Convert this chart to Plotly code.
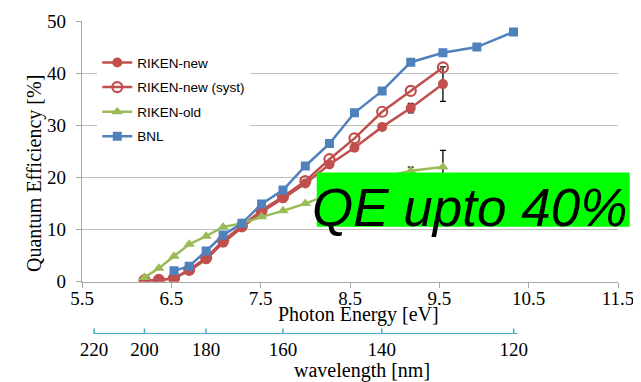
import plotly.graph_objects as go

# ---- data ----
energy = [6.20, 6.36, 6.53, 6.70, 6.89, 7.08, 7.29, 7.51, 7.75, 8.00,
          8.27, 8.55, 8.86, 9.18, 9.54, 9.92, 10.33]
riken_new_x = energy[:15]
riken_new = [0.3, 0.3, 0.65, 2.1, 4.3, 7.5, 10.4, 13.4, 16.0, 18.85,
             22.5, 25.7, 29.7, 33.3, 37.9]
riken_syst = [0.3, 0.35, 0.7, 2.3, 4.6, 7.9, 10.7, 13.7, 16.3, 19.3,
              23.5, 27.5, 32.6, 36.6, 41.1]
riken_old_x = energy[:15]
riken_old = [0.84, 2.6, 4.9, 7.2, 8.75, 10.5, 11.2, 12.45, 13.6, 15.0,
             16.8, 18.5, 20.0, 21.3, 22.0]
bnl_x = energy[2:]
bnl = [2.1, 3.0, 5.9, 8.95, 11.2, 14.9, 17.6, 22.2, 26.5, 32.4, 36.6,
       42.1, 43.9, 45.0, 47.9]

# error bars (only at the two highest-energy points)
err_x = [9.18, 9.54]
new_err_y = [33.3, 37.9]
new_err = [0.9, 3.3]
old_err_y = [21.3, 22.0]
old_err = [0.7, 3.2]

energy_ticks = [5.5, 6.5, 7.5, 8.5, 9.5, 10.5, 11.5]
wl_ticks = [220, 200, 180, 160, 140, 120]
wl_line = [220, 119.5]
HC = 1239.84  # eV*nm

RED = "#C0504D"
GREEN = "#9BBB59"
BLUE = "#4F81BD"
CYAN = "#4BACC6"
GRID = "#BFBFBF"
AXC = "#A6A6A6"
SERIF = "Liberation Serif, Times New Roman, serif"
SANS = "Liberation Sans, Arial, sans-serif"

fig = go.Figure()

# error bar traces (drawn beneath markers)
for ey, ee in ((new_err_y, new_err), (old_err_y, old_err)):
    fig.add_trace(go.Scatter(x=err_x, y=ey, mode="markers",
                             marker=dict(size=1, color="rgba(0,0,0,0)"),
                             error_y=dict(type="data", array=ee, visible=True,
                                          color="black", thickness=1.3, width=3),
                             showlegend=False, hoverinfo="skip"))

fig.add_trace(go.Scatter(x=riken_new_x, y=riken_new, name="RIKEN-new",
                         mode="lines+markers", legendgroup="a",
                         line=dict(color=RED, width=2.5),
                         marker=dict(symbol="circle", size=10, color=RED)))
fig.add_trace(go.Scatter(x=riken_new_x, y=riken_syst, name="RIKEN-new (syst)",
                         mode="lines+markers", legendgroup="b",
                         line=dict(color=RED, width=2.5),
                         marker=dict(symbol="circle-open", size=10, color=RED,
                                     line=dict(width=2.2, color=RED))))
fig.add_trace(go.Scatter(x=riken_old_x, y=riken_old, name="RIKEN-old",
                         mode="lines+markers", legendgroup="c",
                         line=dict(color=GREEN, width=2.5),
                         marker=dict(symbol="triangle-up", size=10, color=GREEN)))
fig.add_trace(go.Scatter(x=bnl_x, y=bnl, name="BNL",
                         mode="lines+markers", legendgroup="d",
                         line=dict(color=BLUE, width=2.5),
                         marker=dict(symbol="square", size=9, color=BLUE)))

# wavelength scale line
wl_line_e = [HC / w for w in wl_line]
wl_tick_e = [HC / w for w in wl_ticks]
fig.add_trace(go.Scatter(x=wl_line_e, y=[0, 0], xaxis="x2", yaxis="y2",
                         mode="lines", line=dict(color=CYAN, width=2),
                         showlegend=False, hoverinfo="skip"))
fig.add_trace(go.Scatter(x=wl_tick_e, y=[0] * len(wl_ticks), xaxis="x2", yaxis="y2",
                         mode="markers",
                         marker=dict(symbol="line-ns", size=8,
                                     line=dict(color=CYAN, width=1.5)),
                         showlegend=False, hoverinfo="skip"))

# page offset (browser body margin)
OFF = 8
W, H = 641, 382
ML, MR, MT, MB = 73.7, 30.7, 12.7, 2
PW, PH = W - ML - MR, H - MT - MB


def px(xp):
    return (xp - OFF - ML) / PW


def py(yp):
    return (H - MB - (yp - OFF)) / PH


fig.update_layout(
    width=W, height=H,
    margin=dict(l=ML, r=MR, t=MT, b=MB, autoexpand=False),
    paper_bgcolor="white", plot_bgcolor="white",
    xaxis=dict(range=[5.5, 11.5], domain=[0, 1], anchor="y", automargin=False,
               tickvals=energy_ticks, ticktext=[str(t) for t in energy_ticks],
               showgrid=False, zeroline=False, showline=True,
               linecolor=AXC, linewidth=1.3,
               ticks="outside", ticklen=5, tickcolor=AXC,
               ticklabelstandoff=-6,
               tickfont=dict(family=SERIF, size=19, color="black")),
    yaxis=dict(range=[0, 50], domain=[py(281.7), 1], anchor="x", automargin=False,
               tickvals=[0, 10, 20, 30, 40, 50],
               showgrid=True, gridcolor=GRID, gridwidth=1.3,
               zeroline=False, showline=True,
               linecolor=AXC, linewidth=1.3,
               ticks="outside", ticklen=5, tickcolor=AXC,
               ticklabelstandoff=6,
               tickfont=dict(family=SERIF, size=19, color="black")),
    xaxis2=dict(range=[5.5, 11.5], domain=[0, 1], anchor="y2", automargin=False,
                tickvals=wl_tick_e, ticktext=[str(t) for t in wl_ticks],
                showgrid=False, zeroline=False, showline=False,
                ticks="", ticklabelstandoff=2,
                tickfont=dict(family=SERIF, size=19, color="black")),
    yaxis2=dict(range=[0, 1], domain=[py(334), py(334) + 0.08], anchor="x2",
                visible=False, automargin=False),
    legend=dict(x=px(97), y=py(47), xanchor="left", yanchor="top",
                bgcolor="white", borderwidth=0, tracegroupgap=4,
                itemwidth=30,
                font=dict(family=SANS, size=13.5, color="black")),
    showlegend=True,
)

fig.add_shape(type="rect", xref="paper", yref="paper",
              x0=px(316.7), x1=px(630), y0=py(226.7), y1=py(172.3),
              fillcolor="#00FF00", line=dict(width=0), layer="above")

annotations = [
    dict(text="QE upto 40%", x=px(470), y=py(207), xref="paper", yref="paper",
         showarrow=False, xanchor="center", yanchor="middle",
         font=dict(family=SANS, size=53, color="black", style="italic")),
    dict(text="Photon Energy [eV]", x=px(358.8), y=py(314), xref="paper", yref="paper",
         showarrow=False, xanchor="center", yanchor="middle",
         font=dict(family=SERIF, size=20, color="black")),
    dict(text="wavelength [nm]", x=px(362.5), y=py(370), xref="paper", yref="paper",
         showarrow=False, xanchor="center", yanchor="middle",
         font=dict(family=SERIF, size=20, color="black")),
    dict(text="Quantum Efficiency [%]", x=px(33.5), y=py(173), xref="paper", yref="paper",
         showarrow=False, xanchor="center", yanchor="middle", textangle=-90,
         font=dict(family=SERIF, size=20, color="black")),
]
fig.update_layout(annotations=annotations)

fig.write_html("out.html")
